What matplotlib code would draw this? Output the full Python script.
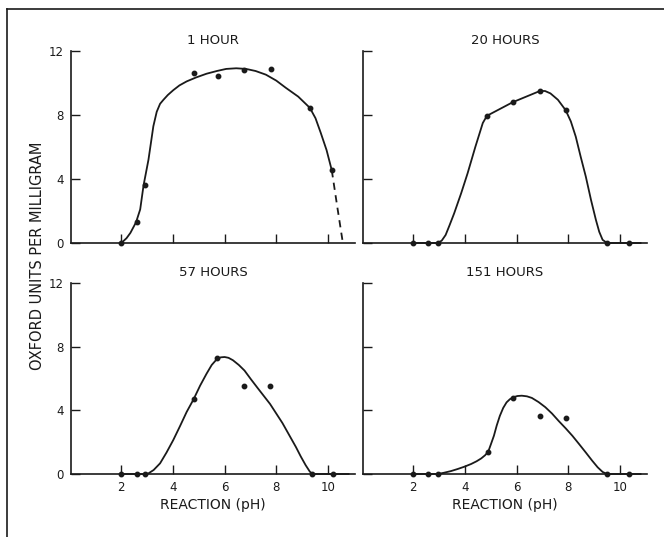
import matplotlib.pyplot as plt
from matplotlib.lines import Line2D

plt.rcParams['font.family'] = 'DejaVu Sans'

# measured activity (oxford units per mg) at each pH
ph_1h = [2.0, 2.6, 2.9, 4.8, 5.75, 6.75, 7.8, 9.3, 10.15]
val_1h = [0.0, 1.3, 3.6, 10.65, 10.45, 10.8, 10.9, 8.45, 4.55]
ph_20h = [2.0, 2.55, 2.95, 4.85, 5.85, 6.9, 7.9, 9.5, 10.35]
val_20h = [0.0, 0.0, 0.0, 7.95, 8.8, 9.5, 8.3, 0.0, 0.0]
ph_57h = [2.0, 2.6, 2.9, 4.8, 5.7, 6.75, 7.75, 9.4, 10.2]
val_57h = [0.0, 0.0, 0.0, 4.7, 7.3, 5.5, 5.5, 0.0, 0.0]
ph_151h = [2.0, 2.55, 2.95, 4.9, 5.85, 6.9, 7.9, 9.5, 10.35]
val_151h = [0.0, 0.0, 0.0, 1.4, 4.8, 3.65, 3.5, 0.0, 0.0]

# hand-drawn fitted curves
curve_1h_x = [2.0, 2.2, 2.35, 2.57, 2.73, 2.86, 3.05, 3.24, 3.37, 3.5, 3.63, 3.8,
              4.01, 4.25, 4.53, 4.9, 5.3, 5.7, 6.06, 6.45, 6.83, 7.2, 7.6, 8.0,
              8.37, 8.85, 9.3, 9.52, 9.72, 9.95, 10.15]
curve_1h_y = [0.0, 0.3, 0.63, 1.3, 2.1, 3.6, 5.2, 7.3, 8.2, 8.7, 8.95, 9.25,
              9.55, 9.85, 10.1, 10.35, 10.58, 10.75, 10.88, 10.92, 10.88, 10.75,
              10.52, 10.15, 9.7, 9.15, 8.45, 7.8, 6.9, 5.8, 4.55]
dash_1h_x = [10.15, 10.36, 10.58]
dash_1h_y = [4.55, 2.3, 0.0]
curve_20h_x = [2.0, 2.95, 3.1, 3.25, 3.4, 3.58, 3.85, 4.1, 4.4, 4.69, 4.85, 5.85,
               6.9, 7.1, 7.31, 7.6, 7.9, 8.1, 8.29, 8.48, 8.68, 8.88, 9.07, 9.2,
               9.33, 9.5, 10.8]
curve_20h_y = [0.0, 0.0, 0.15, 0.5, 1.1, 1.85, 3.1, 4.35, 6.0, 7.5, 7.95, 8.8,
               9.5, 9.5, 9.35, 8.95, 8.3, 7.6, 6.65, 5.4, 4.15, 2.7, 1.45, 0.7,
               0.2, 0.0, 0.0]
curve_57h_x = [2.0, 2.9, 3.05, 3.25, 3.5, 3.75, 4.01, 4.27, 4.53, 4.8, 5.05, 5.3,
               5.5, 5.69, 5.85, 6.0, 6.15, 6.32, 6.55, 6.77, 7.02, 7.28, 7.52,
               7.76, 8.0, 8.24, 8.5, 8.76, 8.95, 9.14, 9.3, 9.4, 10.8]
curve_57h_y = [0.0, 0.0, 0.04, 0.25, 0.67, 1.35, 2.13, 3.0, 3.9, 4.7, 5.55, 6.3,
               6.85, 7.2, 7.33, 7.35, 7.3, 7.15, 6.85, 6.5, 5.95, 5.4, 4.9,
               4.4, 3.8, 3.2, 2.45, 1.7, 1.1, 0.55, 0.15, 0.0, 0.0]
curve_151h_x = [2.0, 2.95, 3.19, 3.45, 3.71, 3.98, 4.24, 4.45, 4.63, 4.78, 4.9,
                5.0, 5.12, 5.23, 5.35, 5.48, 5.61, 5.74, 5.87, 6.03, 6.2, 6.4,
                6.59, 6.85, 7.11, 7.37, 7.63, 7.9, 8.16, 8.42, 8.68, 8.92, 9.14,
                9.33, 9.5, 10.8]
curve_151h_y = [0.0, 0.0, 0.08, 0.18, 0.31, 0.46, 0.63, 0.8, 0.98, 1.18, 1.4,
                1.85, 2.4, 3.05, 3.65, 4.15, 4.5, 4.7, 4.82, 4.9, 4.92, 4.88,
                4.78, 4.52, 4.2, 3.8, 3.33, 2.87, 2.4, 1.88, 1.35, 0.85, 0.42,
                0.13, 0.0, 0.0]

titles = ['1 HOUR', '20 HOURS', '57 HOURS', '151 HOURS']
ink = '#1a1a1a'

fig = plt.figure(figsize=(6.64, 5.37), dpi=100)
W, H = 664, 537
boxes = [(71, 51, 284, 192), (363, 51, 284, 192),
         (71, 283, 284, 191), (363, 283, 284, 191)]
axes = []
for (l, t, w, h) in boxes:
    ax = fig.add_axes([l / W, (H - t - h) / H, w / W, h / H])
    axes.append(ax)

panels = [
    (ph_1h, val_1h, curve_1h_x, curve_1h_y),
    (ph_20h, val_20h, curve_20h_x, curve_20h_y),
    (ph_57h, val_57h, curve_57h_x, curve_57h_y),
    (ph_151h, val_151h, curve_151h_x, curve_151h_y),
]

for i, ax in enumerate(axes):
    px, py, cx, cy = panels[i]
    ax.plot(cx, cy, color=ink, lw=1.3, clip_on=False, solid_joinstyle='round')
    ax.plot(px, py, 'o', color=ink, ms=3.2, clip_on=False, zorder=5)
    if i == 0:
        ax.plot(dash_1h_x, dash_1h_y, color=ink, lw=1.3, ls=(0, (4, 3)), clip_on=False)
    ax.set_xlim(0.05, 11.05)
    ax.set_ylim(0, 12)
    ax.set_xticks([2, 4, 6, 8, 10])
    ax.set_yticks([0, 4, 8, 12])
    for s in ['top', 'right']:
        ax.spines[s].set_visible(False)
    for s in ['left', 'bottom']:
        ax.spines[s].set_color(ink)
        ax.spines[s].set_linewidth(1.2)
    ax.tick_params(direction='in', length=6.5, width=1.0, color=ink,
                   labelsize=8.5, labelcolor=ink, pad=5)
    ax.set_title(titles[i], fontsize=9.5, color=ink, pad=5)
    if i in (0, 1):
        ax.tick_params(labelbottom=False)
    else:
        ax.set_xlabel('REACTION (pH)', fontsize=10, color=ink, labelpad=3)
    if i in (1, 3):
        ax.tick_params(labelleft=False)

fig.text(38 / W, 1 - 256 / H, 'OXFORD UNITS PER MILLIGRAM', rotation=90,
         ha='center', va='center', fontsize=10.5, color=ink)

# border on the left and top edges
fig.add_artist(Line2D([7 / W, 7 / W], [0, 1 - 9 / H], color=ink, lw=1.2))
fig.add_artist(Line2D([7 / W, 1], [1 - 9 / H, 1 - 9 / H], color=ink, lw=1.2))

fig.savefig('out.png', dpi=100)
